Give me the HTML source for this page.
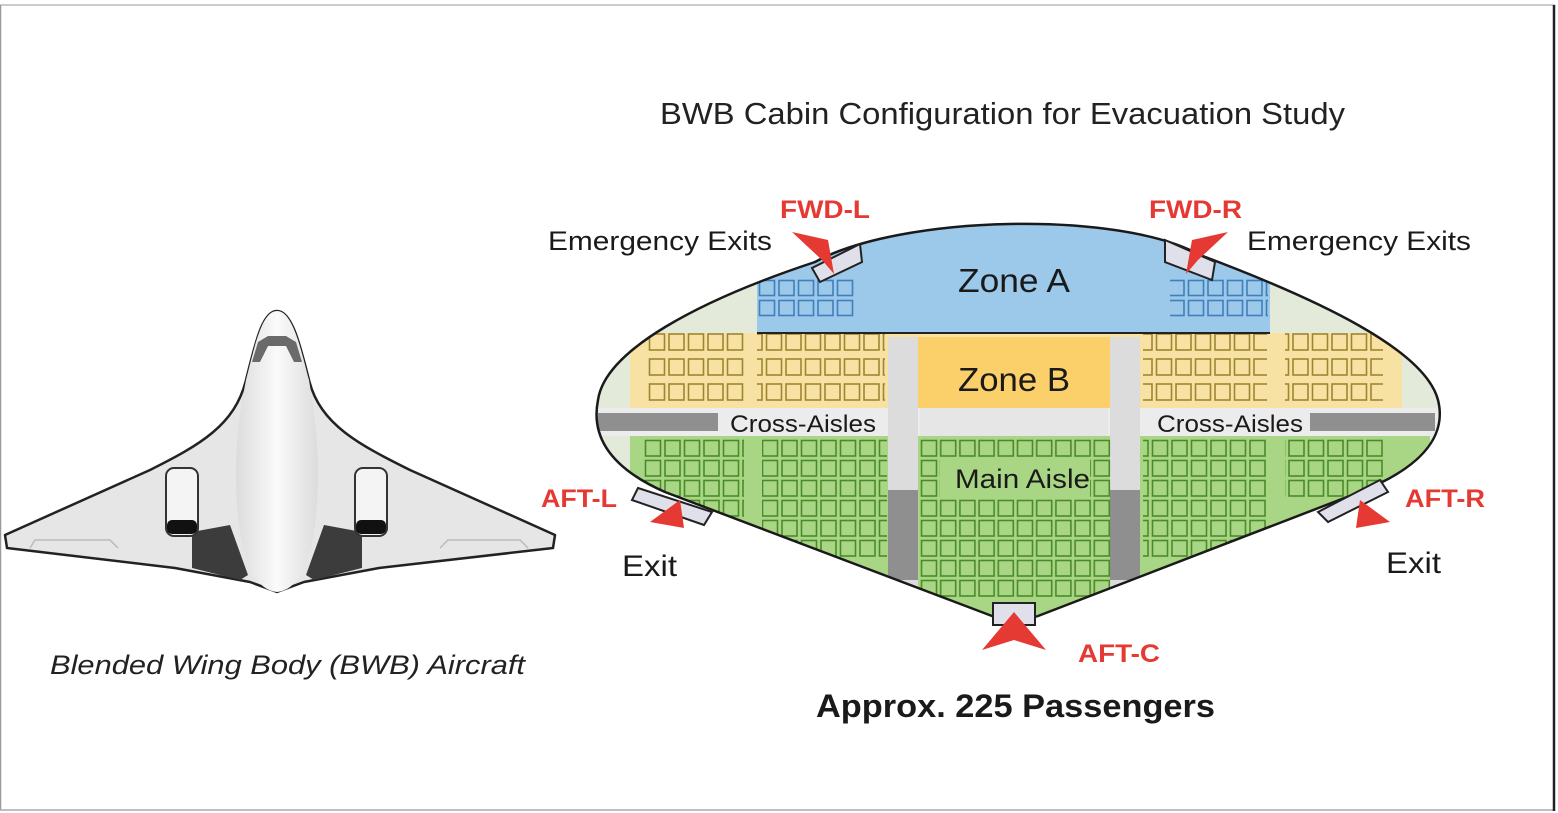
<!DOCTYPE html>
<html><head><meta charset="utf-8"><style>
html,body{margin:0;padding:0;background:#fff}
svg{display:block}
text{font-family:"Liberation Sans","DejaVu Sans",sans-serif}
</style></head><body>
<svg width="1558" height="813" viewBox="0 0 1558 813" xmlns="http://www.w3.org/2000/svg">
<defs>
<pattern id="pb" x="758" y="279" width="19.5" height="20" patternUnits="userSpaceOnUse"><rect x="1.5" y="1.5" width="15" height="15" fill="none" stroke="#3f7fba" stroke-width="1.6"/></pattern>
<pattern id="py" x="648" y="332" width="19.5" height="25" patternUnits="userSpaceOnUse"><rect x="1.5" y="2" width="15" height="16" fill="none" stroke="#9e8630" stroke-width="1.6"/></pattern>
<pattern id="pg" x="644" y="439" width="19.5" height="20" patternUnits="userSpaceOnUse"><rect x="1.5" y="1.5" width="15" height="15.5" fill="none" stroke="#4b8a2a" stroke-width="1.6"/></pattern>
<pattern id="pg2" x="920" y="439" width="19.2" height="20" patternUnits="userSpaceOnUse"><rect x="1.5" y="1.5" width="15" height="15.5" fill="none" stroke="#4b8a2a" stroke-width="1.6"/></pattern>
<clipPath id="cab"><path d="M598,400 C605,350 700,300 815,262 C900,215 1120,210 1200,255 C1320,300 1425,350 1438,400 C1448,440 1415,470 1360,492 L1038,616 Q1015,624 992,616 L665,492 C615,470 590,440 598,400 Z"/></clipPath>
<linearGradient id="fus" x1="0" x2="1"><stop offset="0" stop-color="#dcdcdc"/><stop offset="0.5" stop-color="#fafafa"/><stop offset="1" stop-color="#dcdcdc"/></linearGradient>
</defs>

<line x1="0" y1="5" x2="1555" y2="5" stroke="#999" stroke-width="1"/>
<line x1="0.5" y1="5" x2="0.5" y2="810" stroke="#999" stroke-width="1.5"/>
<line x1="0" y1="810" x2="1555" y2="810" stroke="#aaa" stroke-width="1.5"/>
<line x1="1554" y1="5" x2="1554" y2="811" stroke="#222" stroke-width="2.5"/>

<!-- aircraft -->
<path d="M277,311 C262,311 255,345 246,380 C235,425 200,445 150,470 L5,535 L7,548 L175,568 L250,582 L277,592 L304,582 L379,568 L553,548 L555,535 L410,470 C360,445 320,425 309,380 C300,345 292,311 277,311 Z" fill="#e6e6e6" stroke="#222" stroke-width="2.5" stroke-linejoin="round"/>
<path d="M277,311 C262,311 255,345 246,380 C240,410 236,440 236,470 C236,560 255,590 277,592 C299,590 318,560 318,470 C318,440 314,410 309,380 C300,345 292,311 277,311 Z" fill="url(#fus)"/>
<path d="M258,342 L268,336 L286,336 L296,342 L302,362 L294,362 L286,346 L268,346 L260,362 L252,362 Z" fill="#6a6a6a"/>
<path d="M192,532 L230,525 L248,575 L240,580 L192,568 Z" fill="#3c3c3c"/>
<path d="M362,532 L324,525 L306,575 L314,580 L362,568 Z" fill="#3c3c3c"/>
<rect x="166" y="468" width="32" height="68" rx="8" fill="#f4f4f4" stroke="#333" stroke-width="2"/>
<rect x="167" y="520" width="30" height="14" rx="5" fill="#111"/>
<rect x="355" y="468" width="32" height="68" rx="8" fill="#f4f4f4" stroke="#333" stroke-width="2"/>
<rect x="356" y="520" width="30" height="14" rx="5" fill="#111"/>
<path d="M30,548 L35,540 L110,540 L118,548" fill="none" stroke="#bbb" stroke-width="1.5"/>
<path d="M440,548 L448,540 L520,540 L528,548" fill="none" stroke="#bbb" stroke-width="1.5"/>
<text x="50" y="674" font-size="27" font-style="italic" fill="#222" textLength="475" lengthAdjust="spacingAndGlyphs">Blended Wing Body (BWB) Aircraft</text>

<!-- cabin -->
<text x="660" y="124" font-size="31" fill="#222" textLength="685" lengthAdjust="spacingAndGlyphs">BWB Cabin Configuration for Evacuation Study</text>
<g clip-path="url(#cab)">
<rect x="580" y="190" width="880" height="450" fill="#e3ead9"/>
<rect x="757" y="190" width="513" height="143" fill="#9cc8ea"/>
<rect x="630" y="333" width="772" height="75" fill="#f7e2a4"/>
<rect x="918" y="337" width="192" height="71" fill="#fbd06a"/>
<rect x="580" y="408" width="880" height="28" fill="#ececec"/>
<rect x="598" y="413" width="120" height="18" fill="#8f8f8f"/>
<rect x="1310" y="413" width="125" height="18" fill="#8f8f8f"/>
<rect x="630" y="436" width="800" height="200" fill="#a9d684"/>
<rect x="888" y="337" width="30" height="250" fill="#dcdcdc"/>
<rect x="1110" y="337" width="30" height="250" fill="#dcdcdc"/>
<rect x="888" y="490" width="30" height="90" fill="#8f8f8f"/>
<rect x="1110" y="490" width="30" height="90" fill="#8f8f8f"/>
<rect x="920" y="408" width="188" height="28" fill="#e6e6e6"/>
<rect x="758" y="279" width="98" height="40" fill="url(#pb)"/>
<rect x="1170" y="279" width="98" height="40" fill="url(#pb)"/>
<rect x="648" y="332" width="96" height="72" fill="url(#py)"/>
<rect x="757" y="332" width="128" height="72" fill="url(#py)"/>
<rect x="1143" y="332" width="124" height="72" fill="url(#py)"/>
<rect x="1285" y="332" width="98" height="72" fill="url(#py)"/>
<rect x="644" y="439" width="100" height="80" fill="url(#pg)"/>
<rect x="762" y="439" width="125" height="120" fill="url(#pg)"/>
<rect x="920" y="439" width="192" height="160" fill="url(#pg2)"/>
<rect x="940" y="459" width="150" height="38" fill="#a9d684"/>
<rect x="1143" y="439" width="125" height="120" fill="url(#pg)"/>
<rect x="1285" y="439" width="98" height="60" fill="url(#pg)"/>
</g>
<line x1="757" y1="333" x2="1270" y2="333" stroke="#222" stroke-width="2"/>
<path d="M598,400 C605,350 700,300 815,262 C900,215 1120,210 1200,255 C1320,300 1425,350 1438,400 C1448,440 1415,470 1360,492 L1038,616 Q1015,624 992,616 L665,492 C615,470 590,440 598,400 Z" fill="none" stroke="#1a1a1a" stroke-width="2.5"/>

<path d="M812,268 L860,244 L862,262 L820,282 Z" fill="#e0e0ea" stroke="#222" stroke-width="2"/>
<path d="M1165,240 L1215,262 L1212,280 L1165,262 Z" fill="#e0e0ea" stroke="#222" stroke-width="2"/>
<path d="M638,488 L712,512 L704,525 L632,500 Z" fill="#e0e0ea" stroke="#222" stroke-width="2"/>
<path d="M1380,480 L1318,512 L1328,522 L1388,492 Z" fill="#e0e0ea" stroke="#222" stroke-width="2"/>
<rect x="993" y="603" width="42" height="22" fill="#e0e0ea" stroke="#222" stroke-width="2"/>
<path d="M792,232 L828,240 L834,274 L822,260 Z" fill="#e53a33"/>
<path d="M1228,232 L1192,240 L1186,274 L1198,260 Z" fill="#e53a33"/>
<path d="M680,500 L650,522 L684,528 Z" fill="#e53a33"/>
<path d="M1360,500 L1390,522 L1356,528 Z" fill="#e53a33"/>
<path d="M1014,612 L982,650 L1014,640 L1046,650 Z" fill="#e53a33"/>

<g fill="#1a1a1a" lengthAdjust="spacingAndGlyphs">
<text x="958" y="292" font-size="33" textLength="112" lengthAdjust="spacingAndGlyphs">Zone A</text>
<text x="958" y="391" font-size="33" textLength="112" lengthAdjust="spacingAndGlyphs">Zone B</text>
<text x="730" y="432" font-size="24" textLength="146" lengthAdjust="spacingAndGlyphs">Cross-Aisles</text>
<text x="1157" y="432" font-size="24" textLength="146" lengthAdjust="spacingAndGlyphs">Cross-Aisles</text>
<text x="955" y="488" font-size="27" textLength="135" lengthAdjust="spacingAndGlyphs">Main Aisle</text>
<text x="548" y="250" font-size="27" textLength="224" lengthAdjust="spacingAndGlyphs">Emergency Exits</text>
<text x="1247" y="250" font-size="27" textLength="224" lengthAdjust="spacingAndGlyphs">Emergency Exits</text>
<text x="622" y="576" font-size="30" textLength="55" lengthAdjust="spacingAndGlyphs">Exit</text>
<text x="1386" y="573" font-size="30" textLength="55" lengthAdjust="spacingAndGlyphs">Exit</text>
</g>
<g font-size="25" font-weight="bold" fill="#e53a33">
<text x="780" y="218" textLength="90" lengthAdjust="spacingAndGlyphs">FWD-L</text>
<text x="1149" y="218" textLength="93" lengthAdjust="spacingAndGlyphs">FWD-R</text>
<text x="541" y="507" textLength="76" lengthAdjust="spacingAndGlyphs">AFT-L</text>
<text x="1405" y="507" textLength="80" lengthAdjust="spacingAndGlyphs">AFT-R</text>
<text x="1078" y="662" textLength="82" lengthAdjust="spacingAndGlyphs">AFT-C</text>
</g>
<text x="816" y="717" font-size="32" font-weight="bold" fill="#1a1a1a" textLength="399" lengthAdjust="spacingAndGlyphs">Approx. 225 Passengers</text>
</svg>
</body></html>
